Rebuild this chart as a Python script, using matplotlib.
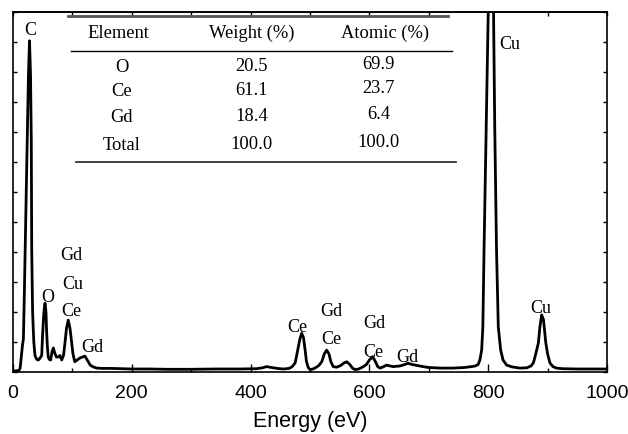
import matplotlib
matplotlib.use("Agg")
import matplotlib.pyplot as plt
from matplotlib.ticker import MultipleLocator

# EDS spectrum (energy in eV, intensity in arbitrary units)
energy = [0, 10, 12, 14, 16, 17.5, 19, 20.5, 22, 24,
          26, 27.8, 29.5, 30.8, 31.5, 33, 35, 37, 40, 42.6,
          45, 48.3, 50, 52, 53.9, 55.5, 56.7, 58, 59.4, 61,
          63.4, 66, 67.9, 70, 73, 76, 79, 82, 85, 87.5,
          90, 93, 96, 98.8, 101, 104, 108, 113, 117, 121,
          125, 130, 135, 141, 150, 165, 180, 200, 230, 260,
          300, 340, 380, 410, 420, 427, 435, 445, 455, 465,
          470, 475, 479, 483, 486, 489, 492, 494, 497, 500,
          505, 510, 515, 520, 524, 528, 532, 535, 539, 545,
          552, 557, 562, 567, 572, 576, 582, 590, 595, 600,
          605.5, 610, 614, 618, 623, 629, 635, 640, 645, 651,
          658, 665, 672, 680, 690, 700, 720, 740, 760, 772,
          778, 783, 786, 789, 791, 793, 796.6, 800, 802, 804.5,
          807, 809, 811, 814, 817, 821, 825, 831, 840, 853,
          865, 872, 876, 880, 884.5, 887, 890, 893, 897, 900,
          904, 909, 915, 925, 950, 975, 1000]
counts = [0.03, 0.05, 0.13, 0.5, 0.9, 1.1, 2.5, 4.1, 5.6, 7.7,
          9.9, 11.04, 9.9, 7.7, 4.1, 2.0, 1.0, 0.55, 0.42, 0.4,
          0.45, 0.55, 1.3, 2.0, 2.29, 2.0, 1.3, 0.8, 0.5, 0.42,
          0.4, 0.7, 0.8, 0.65, 0.5, 0.5, 0.55, 0.4, 0.55, 0.97,
          1.45, 1.73, 1.45, 0.97, 0.6, 0.34, 0.4, 0.47, 0.5, 0.53,
          0.4, 0.23, 0.17, 0.13, 0.12, 0.12, 0.11, 0.1, 0.1, 0.09,
          0.09, 0.1, 0.1, 0.11, 0.14, 0.18, 0.15, 0.12, 0.1, 0.12,
          0.18, 0.3, 0.7, 1.1, 1.29, 1.15, 0.7, 0.35, 0.15, 0.08,
          0.1, 0.15, 0.22, 0.35, 0.6, 0.73, 0.6, 0.35, 0.18, 0.16,
          0.22, 0.3, 0.34, 0.25, 0.12, 0.08, 0.1, 0.18, 0.25, 0.4,
          0.51, 0.35, 0.18, 0.13, 0.17, 0.23, 0.2, 0.18, 0.19, 0.2,
          0.24, 0.29, 0.25, 0.22, 0.18, 0.15, 0.13, 0.13, 0.15, 0.18,
          0.2, 0.25, 0.4, 0.73, 1.5, 4.07, 8.2, 12.0, 14.0, 15.0,
          14.0, 12.0, 8.2, 4.07, 1.5, 0.73, 0.4, 0.23, 0.17, 0.13,
          0.14, 0.2, 0.3, 0.6, 0.97, 1.5, 1.9, 1.75, 0.97, 0.6,
          0.3, 0.18, 0.13, 0.11, 0.1, 0.1, 0.1]

# peak labels: (text, energy, height)
peak_labels = [("C", 28.6, 11.4), ("Cu", 837, 10.93),
               ("Gd", 99, 3.87), ("Cu", 101, 2.93), ("O", 59, 2.47),
               ("Ce", 99, 2.03), ("Gd", 133, 0.8),
               ("Ce", 478, 1.5), ("Gd", 536, 2.0), ("Ce", 536, 1.1),
               ("Gd", 608, 1.6), ("Ce", 606, 0.64), ("Gd", 664, 0.49),
               ("Cu", 889, 2.12)]

# composition table
table_header = ["Element", "Weight (%)", "Atomic (%)"]
elements = ["O", "Ce", "Gd", "Total"]
weight_pct = ["20.5", "61.1", "18.4", "100.0"]
atomic_pct = ["69.9", "23.7", "6.4", "100.0"]

serif = "Liberation Serif"
sans = "Liberation Sans"

fig = plt.figure(figsize=(6.28, 4.34), dpi=100)
ax = fig.add_axes([13 / 628, 62 / 434, 594 / 628, 360 / 434])

ax.plot(energy, counts, color="black", lw=2, solid_joinstyle="round")
ax.set_xlim(0, 1000)
ax.set_ylim(0, 12)

for sp in ax.spines.values():
    sp.set_linewidth(1.2)

ax.xaxis.set_major_locator(MultipleLocator(200))
ax.xaxis.set_minor_locator(MultipleLocator(100))
ax.yaxis.set_major_locator(MultipleLocator(1))
ax.tick_params(axis="x", which="major", direction="in", length=6, width=1,
               pad=9, labelsize=14)
ax.tick_params(axis="x", which="minor", direction="in", length=3, width=1)
ax.tick_params(axis="y", which="both", direction="in", length=3, width=1,
               left=True, right=True, labelleft=False)
for lab in ax.get_xticklabels():
    lab.set_fontfamily(sans)

top = ax.secondary_xaxis("top")
top.xaxis.set_major_locator(MultipleLocator(100))
top.tick_params(direction="in", length=3, width=1, labeltop=False)
top.spines["top"].set_linewidth(1.2)

ax.set_xlabel("Energy (eV)", fontsize=15.5, family=sans, labelpad=7)

for txt, x, y in peak_labels:
    ax.text(x, y, txt, ha="center", va="center", fontsize=13, family=serif)

# table drawn inside the axes
ax.plot([92.6, 732], [11.87, 11.87], color="#555555", lw=2)
ax.plot([97.6, 739], [10.7, 10.7], color="black", lw=1)
ax.plot([106, 746], [7.0, 7.0], color="#333333", lw=1.3)

col_x = [177, 402, 626]
for txt, x in zip(table_header, col_x):
    ax.text(x, 11.3, txt, ha="center", va="center", fontsize=13.3, family=serif)

row_y = [10.15, 9.35, 8.47, 7.55]
for i in range(len(elements)):
    ax.text(183, row_y[i], elements[i], ha="center", va="center",
            fontsize=13.3, family=serif)
    ax.text(402, row_y[i] + 0.05, weight_pct[i], ha="center", va="center",
            fontsize=13.3, family=serif)
    ax.text(616, row_y[i] + 0.1, atomic_pct[i], ha="center", va="center",
            fontsize=13.3, family=serif)

fig.savefig("out.png", dpi=100)
